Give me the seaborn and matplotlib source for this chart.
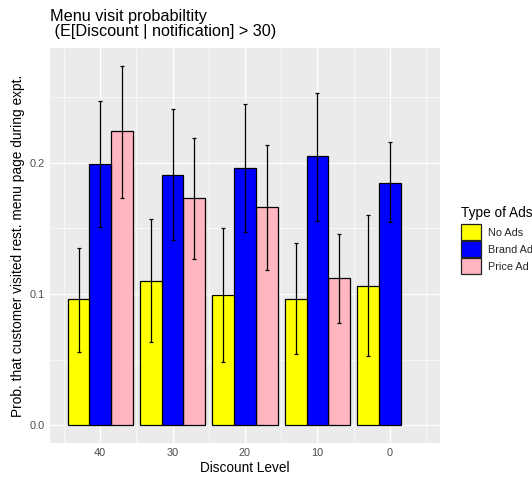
import numpy as np
import pandas as pd
import matplotlib
matplotlib.use("Agg")
import matplotlib.pyplot as plt
import seaborn as sns
from matplotlib.patches import Patch
from matplotlib.ticker import FixedLocator

# ---- data ----
discount_levels = [40, 30, 20, 10, 0]
ad_types = ["No Ads", "Brand Ad", "Price Ad"]

no_ads = [0.096, 0.110, 0.099, 0.096, 0.106]
no_ads_lo = [0.056, 0.063, 0.048, 0.054, 0.053]
no_ads_hi = [0.135, 0.157, 0.150, 0.139, 0.160]

brand_ad = [0.199, 0.191, 0.196, 0.205, 0.185]
brand_ad_lo = [0.151, 0.141, 0.147, 0.156, 0.155]
brand_ad_hi = [0.247, 0.241, 0.245, 0.253, 0.216]

price_discounts = [40, 30, 20, 10]
price_ad = [0.224, 0.173, 0.166, 0.112]
price_ad_lo = [0.173, 0.127, 0.118, 0.078]
price_ad_hi = [0.274, 0.219, 0.214, 0.146]

colors = {"No Ads": "#FFFF00", "Brand Ad": "#0000FF", "Price Ad": "#FFB6C1"}

rows = []
for d, v, lo, hi in zip(discount_levels, no_ads, no_ads_lo, no_ads_hi):
    rows.append(dict(discount=d, ad="No Ads", prob=v, lo=lo, hi=hi))
for d, v, lo, hi in zip(discount_levels, brand_ad, brand_ad_lo, brand_ad_hi):
    rows.append(dict(discount=d, ad="Brand Ad", prob=v, lo=lo, hi=hi))
for d, v, lo, hi in zip(price_discounts, price_ad, price_ad_lo, price_ad_hi):
    rows.append(dict(discount=d, ad="Price Ad", prob=v, lo=lo, hi=hi))
df = pd.DataFrame(rows)

# ---- style ----
sns.set_theme(style="darkgrid")
plt.rcParams['font.family'] = ['Liberation Sans', 'DejaVu Sans']
plt.rcParams['axes.facecolor'] = '#EBEBEB'

fig = plt.figure(figsize=(5.32, 4.79), dpi=100)
fig.patch.set_facecolor("white")
ax = fig.add_axes([50 / 532, 36 / 479, 390 / 532, 395 / 479])

sns.barplot(data=df, x="discount", y="prob", hue="ad",
            hue_order=["Price Ad", "Brand Ad", "No Ads"],
            palette=colors, native_scale=True, width=0.9,
            errorbar=None, edgecolor="black", linewidth=0.9,
            saturation=1, legend=False, ax=ax, zorder=3)

# error bars placed at the bar centres seaborn computed
for p in list(ax.patches):
    w = p.get_width()
    if w <= 0:
        continue
    cx = p.get_x() + w / 2
    h = p.get_height()
    cand = df[np.isclose(df["prob"], h)]
    if cand.empty:
        continue
    row = cand.iloc[(cand["discount"] - cx).abs().argmin()]
    ax.errorbar([cx], [row["prob"]],
                yerr=[[row["prob"] - row["lo"]], [row["hi"] - row["prob"]]],
                fmt="none", ecolor="black", elinewidth=0.9,
                capsize=1.6, capthick=0.9, zorder=4)

ax.set_xlim(46.95, -6.95)
ax.set_ylim(-0.0137, 0.2877)
ax.xaxis.set_major_locator(FixedLocator(discount_levels))
ax.xaxis.set_minor_locator(FixedLocator([45, 35, 25, 15, 5, -5]))
ax.yaxis.set_major_locator(FixedLocator([0.0, 0.1, 0.2]))
ax.yaxis.set_minor_locator(FixedLocator([0.05, 0.15, 0.25]))
ax.set_xticklabels([str(d) for d in discount_levels])
ax.set_yticklabels(["0.0", "0.1", "0.2"])

ax.grid(which="major", color="white", linewidth=0.9)
ax.grid(which="minor", color="white", linewidth=0.45)
ax.set_axisbelow(True)
for s in ax.spines.values():
    s.set_visible(False)

ax.tick_params(axis="both", which="major", length=2.2, width=0.7,
               color="#333333", labelcolor="#4D4D4D", labelsize=7.9, pad=1.5)
ax.tick_params(axis="both", which="minor", length=0)

ax.set_xlabel("Discount Level", fontsize=9.8, color="black", labelpad=2)
ax.set_ylabel("Prob. that customer visited rest. menu page during expt.",
              fontsize=9.9, color="black", labelpad=3)

fig.text(50 / 532, 1 - 9 / 479,
         "Menu visit probabiltity\n (E[Discount | notification] > 30)",
         ha="left", va="top", fontsize=11.7, color="black", linespacing=1.0)

fig.text(461 / 532, 1 - 217 / 479, "Type of Ads", ha="left", va="baseline",
         fontsize=9.8, color="black")
handles = [Patch(facecolor=colors[a], edgecolor="#222222", linewidth=0.9, label=a)
           for a in ad_types]
leg = fig.legend(handles=handles, loc="upper left",
                 bbox_to_anchor=(461 / 532, 1 - 224 / 479), frameon=False,
                 fontsize=7.8, handlelength=1.85,
                 handleheight=1.95, labelspacing=0.05, handletextpad=0.65,
                 borderpad=0, borderaxespad=0)

fig.savefig("out.png", dpi=100, facecolor="white")
